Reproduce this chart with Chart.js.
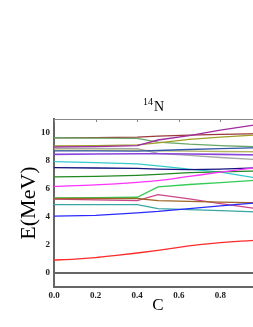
<!DOCTYPE html>
<html><head><meta charset="utf-8">
<script src="https://cdn.jsdelivr.net/npm/chart.js@4/dist/chart.umd.min.js"></script>
<style>html,body{margin:0;padding:0;overflow:hidden;background:#fff;width:253px;height:327px}canvas{display:block}</style>
</head><body>
<canvas id="c" width="262" height="327" style="width:262px;height:327px"></canvas>
<script>
const C = [0, 0.2, 0.4, 0.5, 0.65, 0.8, 1.0];
const Cfine = [0, 0.1, 0.2, 0.3, 0.4, 0.5, 0.6, 0.7, 0.8, 0.9, 1.0];
const xTicks = [0, 0.2, 0.4, 0.6, 0.8];
const yTicks = [0, 2, 4, 6, 8, 10];
const ground   = [0, 0, 0, 0, 0, 0, 0];
const red      = [0.93, 0.99, 1.1, 1.26, 1.43, 1.62, 1.83, 2.02, 2.17, 2.28, 2.36];
const blue     = [4.06, 4.12, 4.3, 4.4, 4.6, 4.8, 5.05];
const teal     = [4.89, 4.89, 4.89, 4.6, 4.52, 4.45, 4.35];
const brown    = [5.32, 5.32, 5.32, 5.17, 5.12, 5.06, 5.0];
const pink     = [5.27, 5.22, 5.17, 5.6, 5.3, 4.95, 4.55];
const green2   = [5.37, 5.38, 5.41, 6.15, 6.32, 6.45, 6.65];
const magenta  = [6.19, 6.3, 6.48, 6.6, 6.9, 7.2, 7.58];
const greenTop = [6.86, 6.9, 6.98, 7.05, 7.17, 7.22, 7.3];
const navy     = [7.52, 7.5, 7.47, 7.42, 7.38, 7.42, 7.52];
const cyan     = [7.95, 7.88, 7.8, 7.65, 7.42, 7.2, 6.72];
const violet   = [8.47, 8.5, 8.52, 8.52, 8.5, 8.47, 8.43];
const dblue    = [8.73, 8.72, 8.7, 8.75, 8.82, 8.88, 8.95];
const khaki    = [8.78, 8.78, 8.78, 8.72, 8.7, 8.68, 8.66];
const gray     = [8.9, 8.9, 8.88, 8.55, 8.4, 8.25, 8.08];
const purple   = [9.0, 9.03, 9.1, 9.5, 9.82, 10.2, 10.65];
const olive    = [9.07, 9.1, 9.15, 9.3, 9.55, 9.7, 9.88];
const green    = [9.66, 9.64, 9.62, 9.35, 9.2, 9.1, 9.0];
const maroon   = [9.66, 9.67, 9.7, 9.78, 9.85, 9.9, 9.95];

const series = [
  [ground, C, '#666666', 2, 0],
  [red, Cfine, '#ff2a2a', 1.3, 0.4],
  [blue, C, '#2a2aff', 1.3, 0],
  [teal, C, '#3aa5a5', 1.3, 0],
  [brown, C, '#a0642a', 1.3, 0],
  [pink, C, '#cc4488', 1.3, 0],
  [green2, C, '#33cc55', 1.3, 0],
  [magenta, C, '#ff33ff', 1.3, 0.3],
  [greenTop, C, '#228822', 1.3, 0],
  [navy, C, '#141480', 1.3, 0],
  [cyan, C, '#33cccc', 1.3, 0],
  [violet, C, '#8844dd', 1.6, 0],
  [dblue, C, '#3355aa', 1.3, 0],
  [khaki, C, '#b5b560', 1.3, 0],
  [gray, C, '#a8a8a8', 1.3, 0],
  [purple, C, '#a02aa0', 1.3, 0],
  [olive, C, '#a0a028', 1.3, 0],
  [green, C, '#66a866', 1.3, 0],
  [maroon, C, '#9a3a3a', 1.3, 0]
];

const datasets = series.map(([vals, xs, col, w, t]) => ({
  data: vals.map((v, i) => ({x: xs[i], y: v})),
  borderColor: col, borderWidth: w, pointRadius: 0, tension: t,
  cubicInterpolationMode: t > 0 ? 'monotone' : 'default', fill: false
}));

const serif = 'Liberation Serif';
const framePlugin = {
  id: 'frame',
  afterDraw(chart) {
    const {ctx, chartArea: a, scales} = chart;
    ctx.save();
    ctx.strokeStyle = '#888';
    ctx.lineWidth = 1;
    ctx.beginPath();
    ctx.moveTo(a.left, a.top + 0.5); ctx.lineTo(a.right, a.top + 0.5);
    xTicks.forEach(t => { const px = Math.round(scales.x.getPixelForValue(t)) + 0.5; ctx.moveTo(px, a.top); ctx.lineTo(px, a.top + 3); });
    ctx.stroke();
    ctx.fillStyle = '#000';
    ctx.textBaseline = 'alphabetic';
    ctx.font = '10px "' + serif + '"';
    ctx.fillText('14', 143, 105);
    ctx.font = '14px "' + serif + '"';
    ctx.fillText('N', 154, 111);
    ctx.restore();
  }
};

new Chart(document.getElementById('c'), {
  type: 'line',
  data: {datasets},
  options: {
    responsive: false, animation: false,
    layout: {padding: {top: 119, right: 0, left: 0, bottom: 0}},
    plugins: {legend: {display: false}, title: {display: false}, tooltip: {enabled: false}},
    scales: {
      x: {
        type: 'linear', min: 0, max: 1.0,
        afterBuildTicks: s => { s.ticks = xTicks.map(v => ({value: v})); },
        afterFit: s => { s.height = 40; },
        grid: {display: false, drawTicks: false},
        border: {display: true, color: '#666', width: 2},
        ticks: {padding: 3, color: '#222', font: {family: serif, size: 9, weight: 'bold'}, callback: v => v.toFixed(1), maxRotation: 0},
        title: {display: true, text: 'C', color: '#000', font: {family: serif, size: 17}, padding: {top: 0, bottom: 11}}
      },
      y: {
        min: -1, max: 11,
        afterBuildTicks: s => { s.ticks = yTicks.map(v => ({value: v})); },
        afterFit: s => { s.width = 54; },
        grid: {display: false, drawTicks: false},
        border: {display: true, color: '#666', width: 2},
        ticks: {padding: 4, color: '#222', font: {family: serif, size: 9, weight: 'bold'}},
        title: {display: true, text: 'E(MeV)', color: '#000', font: {family: serif, size: 22}, padding: {top: 16, bottom: 0}}
      }
    }
  },
  plugins: [framePlugin]
});
</script>
</body></html>
